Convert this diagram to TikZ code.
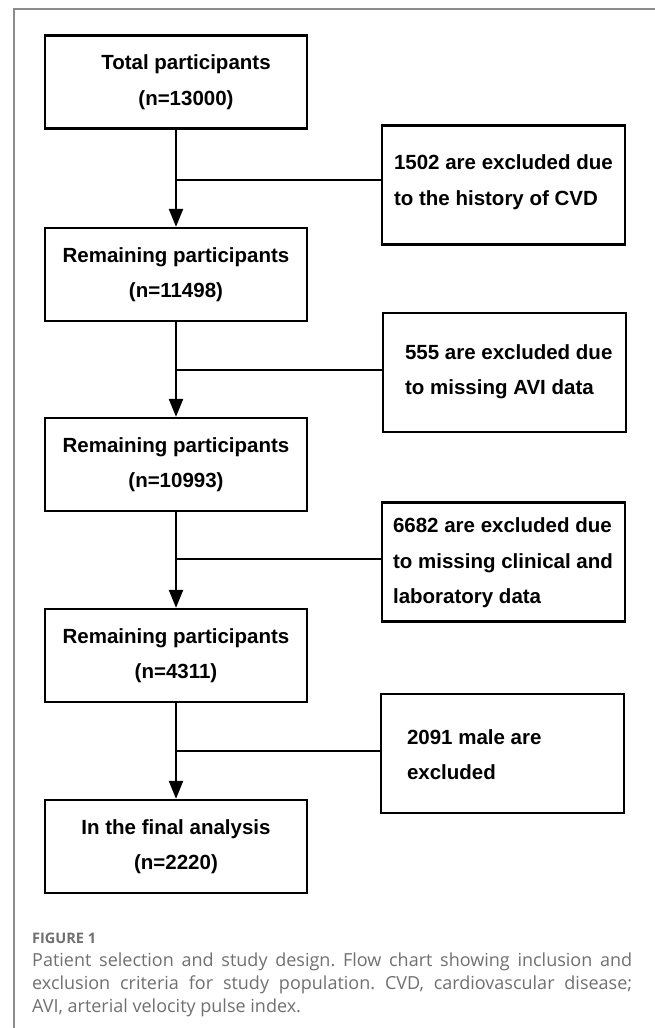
\documentclass[tikz,border=0pt]{standalone}
\usepackage{fontspec}
\setmainfont{Liberation Sans}
\newfontfamily\capfont{Open Sans}
\usetikzlibrary{arrows.meta,calc}
\definecolor{framecol}{HTML}{8C8C8C}
\definecolor{capcol}{HTML}{707070}
\begin{document}
\begin{tikzpicture}[x=1pt,y=-1pt,
  mainbox/.style={draw, line width=2.3pt, minimum width=262pt, minimum height=93pt, inner sep=0pt,
    align=center, font=\bfseries\fontsize{20.5}{35.5}\selectfont},
  sidebox/.style={draw, line width=2.3pt, minimum width=243pt, minimum height=119pt, inner sep=0pt},
  sidetext/.style={anchor=west, inner sep=0pt, align=left, font=\bfseries\fontsize{20.5}{35.5}\selectfont},
  flowarrow/.style={line width=2.3pt, -{Triangle[width=14pt,length=18pt]}},
  joinline/.style={line width=2.3pt}
]
\useasboundingbox (0,0) rectangle (655,1028);
\fill[white] (0,0) rectangle (655,1028);
% frame
\draw[framecol, line width=1.3pt] (14,1028) -- (14,9) -- (655,9);

% main boxes
\node[mainbox] (b1) at (176,82) {\hspace*{20pt}Total participants\\\hspace*{20pt}(n=13000)};
\node[mainbox] (b2) at (176,274.5) {Remaining participants\\(n=11498)};
\node[mainbox] (b3) at (176,464.5) {Remaining participants\\(n=10993)};
\node[mainbox] (b4) at (176,655.5) {Remaining participants\\(n=4311)};
\node[mainbox] (b5) at (176,846.5) {In the final analysis\\(n=2220)};

% side boxes
\node[sidebox] (s1) at (503.5,185) {};
\node[sidebox] (s2) at (504.5,372.5) {};
\node[sidebox] (s3) at (503.5,562) {};
\node[sidebox] (s4) at (502.5,753.5) {};

\node[sidetext] (t1) at ($(s1.west)+(13,-3)$) {1502 are excluded due\\to the history of CVD};
\node[sidetext] (t2) at ($(s2.west)+(23,-1)$) {555 are excluded due\\to missing AVI data};
\node[sidetext] (t3) at ($(s3.west)+(12,1)$) {6682 are excluded due\\to missing clinical and\\laboratory data};
\node[sidetext] (t4) at ($(s4.west)+(27,1)$) {2091 male are\\excluded};

% junctions
\coordinate (j1) at (176,180);
\coordinate (j2) at (176,370);
\coordinate (j3) at (176,559);
\coordinate (j4) at (176,751);

% connectors
\draw[flowarrow] (b1.south) -- (b2.north);
\draw[flowarrow] (b2.south) -- (b3.north);
\draw[flowarrow] (b3.south) -- (b4.north);
\draw[flowarrow] (b4.south) -- (b5.north);
\draw[joinline] (s1.west |- j1) -- (j1);
\draw[joinline] (s2.west |- j2) -- (j2);
\draw[joinline] (s3.west |- j3) -- (j3);
\draw[joinline] (s4.west |- j4) -- (j4);

% caption
\node[anchor=base west, inner sep=0pt, text=capcol, font=\capfont\bfseries\fontsize{14.5}{16}\selectfont] (fig) at (32,943) {FIGURE 1};
\node[anchor=base west, inner sep=0pt, text=capcol, text width=600pt, align=justify,
  font=\capfont\fontsize{18}{23.2}\selectfont] (cap) at (32,966.5)
  {\frenchspacing\hyphenpenalty=10000 Patient selection and study design. Flow chart showing inclusion and\linebreak
   exclusion criteria for study population. CVD, cardiovascular disease;\linebreak
   AVI, arterial velocity pulse index.};
\end{tikzpicture}
\end{document}
